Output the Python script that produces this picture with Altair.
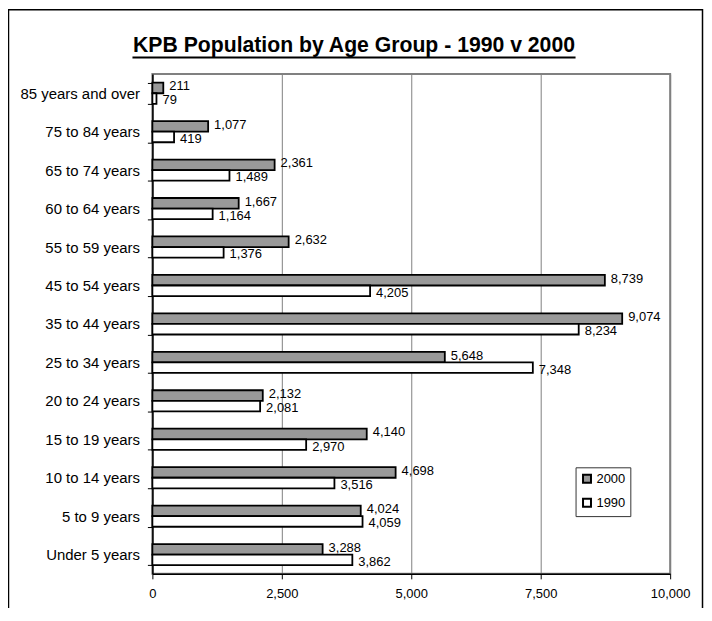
import altair as alt
import pandas as pd

categories = ["85 years and over", "75 to 84 years", "65 to 74 years", "60 to 64 years",
              "55 to 59 years", "45 to 54 years", "35 to 44 years", "25 to 34 years",
              "20 to 24 years", "15 to 19 years", "10 to 14 years", "5 to 9 years",
              "Under 5 years"]
pop_2000 = [211, 1077, 2361, 1667, 2632, 8739, 9074, 5648, 2132, 4140, 4698, 4024, 3288]
pop_1990 = [79, 419, 1489, 1164, 1376, 4205, 8234, 7348, 2081, 2970, 3516, 4059, 3862]
series = ["2000", "1990"]
series_colors = ["#999999", "#ffffff"]
x_ticks = [0, 2500, 5000, 7500, 10000]
title_text = "KPB Population by Age Group - 1990 v 2000"

rows = []
for c, a, b in zip(categories, pop_2000, pop_1990):
    rows.append({"age": c, "year": "2000", "value": a})
    rows.append({"age": c, "year": "1990", "value": b})
df = pd.DataFrame(rows)

W, H = 520, 502

y_scale = alt.Scale(paddingInner=0.45, paddingOuter=0.225)
y_enc = alt.Y("age:N", sort=categories, scale=y_scale,
              axis=alt.Axis(title=None, labelFontSize=15, labelColor="black", labelPadding=8,
                            tickSize=5, tickColor="black", tickWidth=1, tickBand="extent",
                            domainColor="black", domainWidth=1.5, grid=False))
yoff = alt.YOffset("year:N", sort=series, scale=alt.Scale(domain=series))
x_enc = alt.X("value:Q", scale=alt.Scale(domain=[0, 10000], nice=False),
              axis=alt.Axis(title=None, values=x_ticks, format=",.0f", labelFontSize=13,
                            labelColor="black", labelPadding=9, labelFlush=False,
                            tickSize=5, tickColor="black", domainColor="black",
                            domainWidth=1.5, grid=True, gridColor="#808080", gridWidth=1))

bars = alt.Chart(df).mark_bar(stroke="black", strokeWidth=1.8).encode(
    y=y_enc, yOffset=yoff, x=x_enc,
    fill=alt.Fill("year:N", sort=series,
                  scale=alt.Scale(domain=series, range=series_colors),
                  legend=alt.Legend(title=None, orient="none", legendX=425, legendY=395,
                                    direction="vertical", symbolType="square", symbolSize=64,
                                    symbolStrokeColor="black", symbolStrokeWidth=2,
                                    labelFontSize=13, labelColor="black", labelOffset=3,
                                    padding=5, rowPadding=7, strokeColor="#333333",
                                    fillColor="white")),
)


def label_layer(year, shift):
    return alt.Chart(df).transform_filter(alt.datum.year == year).mark_text(
        align="left", baseline="middle", dx=6, dy=shift, fontSize=13, color="black"
    ).encode(
        y=y_enc, yOffset=yoff, x=x_enc,
        text=alt.Text("value:Q", format=",.0f"),
    )


labels_2000 = label_layer("2000", -1.5)
labels_1990 = label_layer("1990", 2)

title_df = pd.DataFrame({"t": [title_text]})
title = alt.Chart(title_df).mark_text(fontSize=21.3, fontWeight="bold", align="center",
                                      baseline="alphabetic", color="black").encode(
    text="t:N", x=alt.value(202.5), y=alt.value(-21.8))
underline = alt.Chart(title_df).mark_rule(color="black", strokeWidth=2).encode(
    x=alt.value(-20), x2=alt.value(425), y=alt.value(-16.5))
frame = alt.Chart(title_df).mark_rect(fillOpacity=0, stroke="black", strokeWidth=1.5).encode(
    x=alt.value(-144.5), x2=alt.value(552.5), y=alt.value(-64.5), y2=alt.value(H + 100))

chart = alt.layer(frame, bars, labels_2000, labels_1990, title, underline).properties(
    width=W, height=H,
    autosize=alt.AutoSizeParams(type="none"),
    padding={"left": 145, "top": 65, "right": 34, "bottom": 33},
    background="white",
).configure(
    font="Liberation Sans",
    view=alt.ViewConfig(stroke="#808080", strokeWidth=2),
)

chart.save("out.html", embed_options={"renderer": "svg", "actions": False})
